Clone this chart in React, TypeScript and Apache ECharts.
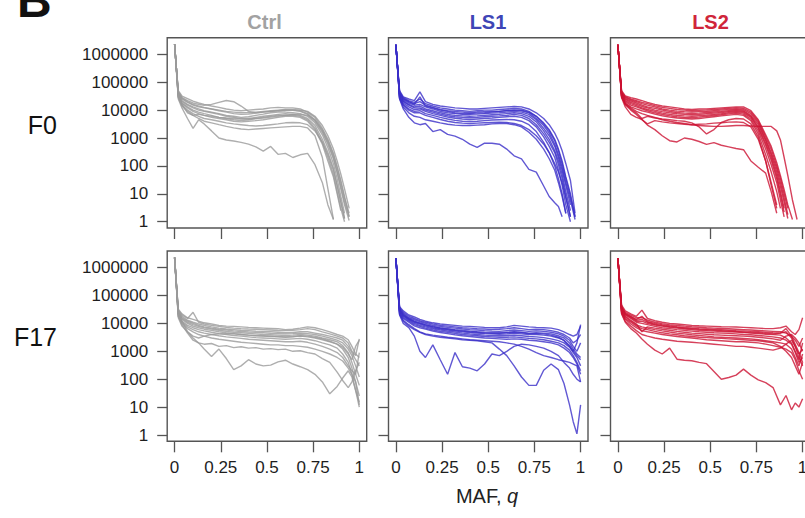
import React, { useEffect, useRef } from 'react';
import * as echarts from 'echarts';

const N = null;

// MAF grid (q) at which each curve was read
const Q_F0 = [0, 0.01, 0.02, 0.04, 0.07, 0.1, 0.13, 0.16, 0.2, 0.24, 0.28, 0.32, 0.36, 0.4, 0.44, 0.48, 0.52, 0.56, 0.6, 0.64, 0.68, 0.72, 0.76, 0.8, 0.83, 0.86, 0.88, 0.9, 0.92, 0.945, 0.97];
const Q_F17 = [0, 0.01, 0.02, 0.04, 0.07, 0.1, 0.13, 0.16, 0.2, 0.24, 0.28, 0.32, 0.36, 0.4, 0.44, 0.48, 0.52, 0.56, 0.6, 0.64, 0.68, 0.72, 0.76, 0.8, 0.84, 0.88, 0.91, 0.94, 0.96, 0.98, 1];

const Y_TICK_LABELS = ['1', '10', '100', '1000', '10000', '100000', '1000000'];
const X_TICK_LABELS = ['0', '0.25', '0.5', '0.75', '1'];
const COLUMN_TITLES = ['Ctrl', 'LS1', 'LS2'];
const ROW_TITLES = ['F0', 'F17'];

// ---------- Ctrl, F0 ----------
const CTRL_F0 = [
  [2.3e6, 3e5, 5e4, 3.2e4, 2.6e4, 2.1e4, 1.8e4, 1.6e4, 1.4e4, 1.25e4, 1.1e4, 1e4, 9500, 1e4, 1.05e4, 1.1e4, 1.2e4, 1.25e4, 1.2e4, 1.2e4, 1.1e4, 8500, 5500, 2200, 900, 280, 90, 30, 8, 1.5, N],
  [2.3e6, 3e5, 4.5e4, 2.8e4, 2.2e4, 1.8e4, 1.6e4, 1.5e4, 1.6e4, 1.9e4, 2.2e4, 2e4, 1.4e4, 9000, 8000, 8500, 9000, 9500, 1e4, 9800, 9000, 7000, 4000, 1600, 600, 180, 60, 18, 5, 1.5, N],
  [2.3e6, 3e5, 4e4, 2.5e4, 1.9e4, 1.5e4, 1.3e4, 1.2e4, 1.1e4, 9500, 8500, 7500, 7000, 7200, 7800, 8500, 9000, 9500, 1e4, 1e4, 9500, 7500, 4500, 1800, 700, 200, 60, 15, 4, 1.1, N],
  [2.3e6, 3e5, 4e4, 2.2e4, 1.6e4, 1.3e4, 1.1e4, 9500, 8500, 7500, 6500, 6000, 5500, 5800, 6500, 7200, 8000, 8500, 8500, 8000, 7500, 6000, 3500, 1300, 450, 120, 35, 8, 2, N, N],
  [2.3e6, 3e5, 3.5e4, 2e4, 1.5e4, 1.2e4, 1e4, 9000, 8000, 7000, 6000, 5500, 5000, 5000, 5500, 6000, 6500, 7000, 7500, 7000, 6500, 5000, 2800, 900, 300, 80, 20, 5, 1.3, N, N],
  [2.3e6, 2.8e5, 3.5e4, 1.8e4, 1.3e4, 1e4, 8500, 7500, 6500, 5500, 5000, 4500, 4200, 4500, 5000, 5500, 6000, 6500, 6500, 6500, 6000, 4500, 2300, 700, 200, 50, 12, 3, 1, N, N],
  [2.3e6, 2.8e5, 3e4, 1.7e4, 1.2e4, 9000, 7500, 6500, 5500, 5000, 4500, 4000, 3800, 4000, 4200, 4500, 5000, 5500, 6000, 6000, 5500, 4000, 2000, 600, 150, 40, 10, 2.5, N, N, N],
  [2.3e6, 2.8e5, 3e4, 1.5e4, 1e4, 7500, 6000, 5000, 4500, 4000, 3500, 3200, 3000, 2800, 2700, 2800, 3000, 3200, 3500, 3600, 3500, 3000, 1800, 700, 250, 70, 20, 5, 1.3, N, N],
  [2.3e6, 2.8e5, 2.8e4, 1.4e4, 9000, 6500, 5000, 4000, 3500, 3000, 2600, 2300, 2100, 2000, 2100, 2200, 2300, 2400, 2500, 2600, 2600, 2300, 1200, 200, 15, 1.2, N, N, N, N, N],
  [2.3e6, 2.5e5, 2.5e4, 1.2e4, 5000, 2200, 4500, 3200, 1800, 1000, 850, 780, 700, 600, 480, 340, 500, 260, 280, 200, 250, 280, 110, 25, 4, 1.2, N, N, N, N, N],
  [2.3e6, 3e5, 3.2e4, 1.6e4, 8000, 6500, 7000, 6500, 6000, 5500, 5200, 5000, 4800, 4800, 5000, 5200, 5600, 6000, 6500, 7000, 7000, 6500, 4500, 2000, 800, 250, 90, 25, 7, 2, N],
  [2.3e6, 3e5, 4.5e4, 2.7e4, 2e4, 1.6e4, 1.4e4, 1.25e4, 1.1e4, 1e4, 9000, 8500, 8000, 8000, 8500, 9000, 9500, 1e4, 1.05e4, 1.05e4, 1e4, 9000, 6000, 2800, 1200, 400, 150, 50, 15, 3, N],
];

// ---------- LS1, F0 ----------
const LS1_F0 = [
  [2.2e6, 3e5, 5e4, 3e4, 2.5e4, 2.2e4, 4.5e4, 2e4, 1.6e4, 1.4e4, 1.3e4, 1.2e4, 1.15e4, 1.1e4, 1.1e4, 1.15e4, 1.2e4, 1.25e4, 1.3e4, 1.35e4, 1.3e4, 1.1e4, 8000, 5000, 3000, 1500, 800, 350, 120, 30, 2],
  [2.2e6, 3e5, 4.5e4, 2.8e4, 2.2e4, 1.9e4, 2.5e4, 1.7e4, 1.4e4, 1.2e4, 1.1e4, 1e4, 9500, 9000, 9500, 1e4, 1e4, 1.05e4, 1.1e4, 1.15e4, 1.1e4, 9000, 6000, 3500, 2000, 900, 400, 150, 40, 10, 1.5],
  [2.2e6, 2.8e5, 4e4, 2.5e4, 2e4, 1.7e4, 2e4, 1.5e4, 1.25e4, 1.05e4, 9500, 9000, 8500, 8000, 8500, 8800, 9000, 9000, 9500, 1e4, 9500, 8000, 5000, 2800, 1500, 600, 250, 90, 25, 6, 1.2],
  [2.2e6, 2.8e5, 3.8e4, 2.3e4, 1.8e4, 1.5e4, 1.6e4, 1.3e4, 1.1e4, 9000, 8000, 7500, 7000, 7000, 7200, 7500, 7800, 8000, 8500, 9000, 8500, 7000, 4500, 2200, 1200, 500, 200, 70, 20, 4, N],
  [2.2e6, 2.8e5, 3.5e4, 2.1e4, 1.6e4, 1.3e4, 1.4e4, 1.1e4, 9500, 8000, 7000, 6500, 6200, 6000, 6200, 6500, 6800, 7000, 7500, 8000, 7500, 6000, 3800, 1800, 900, 350, 150, 50, 12, 2.5, N],
  [2.2e6, 2.7e5, 3.2e4, 2e4, 1.5e4, 1.2e4, 1.2e4, 1e4, 8500, 7200, 6300, 5800, 5500, 5300, 5500, 5800, 6000, 6200, 6500, 7000, 6500, 5000, 3000, 1400, 700, 300, 110, 35, 8, 1.5, N],
  [2.2e6, 2.7e5, 3e4, 1.8e4, 1.3e4, 1.05e4, 1.1e4, 9000, 7500, 6500, 5600, 5100, 4800, 4600, 4800, 5000, 5200, 5500, 5800, 6000, 5500, 4200, 2500, 1100, 500, 200, 70, 20, 4, 1, N],
  [2.2e6, 2.6e5, 2.8e4, 1.6e4, 1.1e4, 9000, 9500, 7500, 6500, 5500, 4800, 4300, 4000, 3900, 4000, 4200, 4400, 4500, 4600, 4500, 4000, 3000, 1700, 700, 300, 100, 35, 10, 2, N, N],
  [2.2e6, 2.6e5, 2.7e4, 1.5e4, 1e4, 8000, 8000, 6500, 5500, 4600, 4000, 3600, 3400, 3300, 3400, 3500, 3600, 3700, 3600, 3300, 2800, 2000, 1200, 600, 300, 120, 60, 25, 7, 1.5, N],
  [2.2e6, 2.6e5, 2.6e4, 1.3e4, 8000, 6000, 5500, 4500, 4000, 3500, 3100, 2900, 2800, 2800, 2900, 3000, 3200, 3300, 3300, 3000, 2500, 1600, 900, 400, 180, 70, 25, 8, 2, N, N],
  [2.2e6, 2.5e5, 2.5e4, 1.1e4, 5500, 3500, 3000, 3300, 1700, 2000, 1350, 1170, 900, 600, 460, 650, 650, 600, 400, 230, 180, 75, 60, 19, 8, 4.8, 3.5, 1.5, N, N, N],
  [2.2e6, 3e5, 4.2e4, 2.6e4, 2e4, 1.6e4, 3e4, 1.4e4, 1.2e4, 1e4, 9000, 8000, 7500, 7500, 7800, 8000, 8500, 9000, 9800, 1e4, 1e4, 8500, 6000, 3200, 1800, 800, 350, 120, 35, 8, 1.5],
];

// ---------- LS2, F0 ----------
const LS2_F0 = [
  [2.2e6, 3e5, 5e4, 3.2e4, 2.8e4, 2.5e4, 2.2e4, 1.9e4, 1.6e4, 1.4e4, 1.3e4, 1.2e4, 1.1e4, 1.05e4, 1.1e4, 1.1e4, 1.15e4, 1.2e4, 1.25e4, 1.3e4, 1.3e4, 9500, 4500, 1300, 500, 130, 45, 14, 4, 1.2, N],
  [2.2e6, 3e5, 4.5e4, 3e4, 2.5e4, 2.2e4, 1.9e4, 1.7e4, 1.45e4, 1.25e4, 1.15e4, 1.05e4, 1e4, 9500, 9800, 1e4, 1.05e4, 1.1e4, 1.15e4, 1.2e4, 1.15e4, 8500, 4000, 1100, 400, 100, 35, 10, 3, N, N],
  [2.2e6, 3e5, 4.2e4, 2.8e4, 2.3e4, 2e4, 1.7e4, 1.5e4, 1.3e4, 1.1e4, 1e4, 9200, 8800, 8500, 8800, 9000, 9500, 1e4, 1.05e4, 1.1e4, 1.05e4, 7500, 3500, 900, 300, 80, 25, 7, 1.8, N, N],
  [2.2e6, 2.8e5, 4e4, 2.6e4, 2.1e4, 1.8e4, 1.5e4, 1.3e4, 1.15e4, 1e4, 9000, 8200, 7800, 7600, 7800, 8200, 8600, 9000, 9500, 1e4, 9500, 6500, 3000, 800, 250, 60, 18, 5, 1.3, N, N],
  [2.2e6, 2.8e5, 3.8e4, 2.4e4, 1.9e4, 1.6e4, 1.35e4, 1.2e4, 1e4, 8800, 8000, 7400, 7000, 6800, 7000, 7400, 7800, 8200, 8800, 9200, 8800, 6000, 2500, 650, 200, 45, 12, 3, N, N, N],
  [2.2e6, 2.8e5, 3.6e4, 2.2e4, 1.7e4, 1.45e4, 1.2e4, 1.05e4, 9000, 7800, 7000, 6500, 6200, 6000, 6300, 6600, 7000, 7400, 8000, 8500, 8000, 5500, 2200, 550, 160, 35, 9, 2.2, N, N, N],
  [2.2e6, 2.7e5, 3.4e4, 2e4, 1.5e4, 1.3e4, 1.1e4, 9500, 8000, 7000, 6300, 5800, 5500, 5300, 5600, 6000, 6400, 6800, 7300, 7800, 7200, 4800, 1800, 400, 110, 25, 6, 1.5, N, N, N],
  [2.2e6, 2.7e5, 3.2e4, 1.8e4, 1.3e4, 1.1e4, 9500, 8500, 7200, 6300, 5600, 5200, 5000, 4800, 5000, 5400, 5800, 6200, 6600, 7000, 6500, 4200, 1400, 250, 60, 12, 3, N, N, N, N],
  [2.2e6, 2.6e5, 3e4, 1.6e4, 1.1e4, 8000, 5000, 6000, 5200, 4800, 4500, 4200, 4000, 3500, 2500, 1400, 2000, 3600, 4500, 5000, 4800, 3200, 1100, 150, 20, 3, N, N, N, N, N],
  [2.2e6, 2.7e5, 3e4, 1.7e4, 1.2e4, 9000, 7500, 6500, 5500, 4500, 4000, 3600, 3300, 3000, 2800, 2700, 2600, 2600, 2700, 2800, 2800, 2700, 2600, 2600, 2600, 1800, 850, 200, 45, 6, 1.2],
  [2.2e6, 2.6e5, 2.8e4, 1.3e4, 7000, 5500, 4700, 2900, 2000, 1200, 800, 720, 1000, 900, 750, 590, 680, 550, 480, 420, 380, 150, 90, 55, 12, 2, N, N, N, N, N],
  [2.2e6, 2.7e5, 3.2e4, 1.6e4, 1e4, 7000, 4500, 3200, 4200, 3800, 3500, 3300, 3100, 3000, 3100, 3200, 3400, 3500, 3700, 3800, 3600, 2500, 900, 150, 25, 4, N, N, N, N, N],
];

// ---------- Ctrl, F17 ----------
const CTRL_F17 = [
  [2.3e6, 2.5e5, 3.2e4, 2.2e4, 1.6e4, 1.4e4, 1.2e4, 1.05e4, 9500, 8500, 8000, 7800, 7500, 7200, 7000, 6800, 6600, 6400, 6000, 6200, 6800, 7500, 7000, 6000, 5000, 4000, 3500, 2600, 1500, 800, 600],
  [2.3e6, 2.5e5, 3e4, 2e4, 1.5e4, 2.5e4, 1.1e4, 9500, 8500, 7800, 7200, 6800, 6500, 6300, 6200, 6000, 5800, 5600, 5500, 5600, 6000, 6500, 6000, 5000, 4200, 3500, 3000, 2000, 1000, 700, 2800],
  [2.3e6, 2.4e5, 2.8e4, 1.8e4, 1.3e4, 1.1e4, 9500, 8500, 7500, 6800, 6300, 6000, 5700, 5500, 5300, 5200, 5000, 4800, 4600, 4700, 5000, 5000, 4500, 4000, 3500, 3000, 2500, 1500, 900, 500, 300],
  [2.3e6, 2.4e5, 2.6e4, 1.6e4, 1.2e4, 1e4, 8500, 7500, 6800, 6200, 5800, 5400, 5100, 4900, 4800, 4600, 4400, 4300, 4200, 4300, 4500, 4300, 4000, 3500, 3000, 2500, 2000, 1200, 700, 300, 120],
  [2.3e6, 2.3e5, 2.5e4, 1.5e4, 1.1e4, 9000, 7800, 7000, 6300, 5700, 5200, 4800, 4600, 4400, 4200, 4000, 3900, 3800, 3700, 3800, 4000, 3800, 3500, 3000, 2600, 2200, 1600, 900, 400, 150, 60],
  [2.3e6, 2.3e5, 2.4e4, 1.4e4, 1e4, 8000, 7000, 6200, 5600, 5000, 4600, 4300, 4000, 3800, 3600, 3500, 3400, 3300, 3200, 3300, 3500, 3300, 3000, 2600, 2200, 1800, 1200, 600, 250, 80, 12],
  [2.3e6, 2.2e5, 2.2e4, 1.2e4, 8500, 7000, 6000, 5400, 4800, 4300, 4000, 3700, 3500, 3300, 3100, 3000, 2900, 2800, 2700, 2800, 2900, 2700, 2400, 2000, 1700, 1300, 800, 400, 150, 40, 10],
  [2.3e6, 2.2e5, 2e4, 1.1e4, 7500, 6000, 5000, 4500, 4000, 3600, 3300, 3100, 2900, 2700, 2600, 2500, 2400, 2300, 2200, 2200, 2300, 2100, 1800, 1500, 1200, 900, 600, 300, 200, 150, 900],
  [2.3e6, 2.1e5, 1.8e4, 1e4, 6500, 5000, 4000, 3500, 3000, 2700, 2500, 2300, 2100, 2000, 1900, 1800, 1700, 1700, 1600, 1600, 1500, 1400, 1200, 1000, 800, 600, 450, 250, 150, 80, 25],
  [2.3e6, 2.1e5, 1.8e4, 9000, 4500, 2500, 2000, 1800, 1900, 1500, 1600, 1350, 1450, 1300, 1350, 1200, 1250, 1150, 1200, 1000, 1050, 900, 800, 550, 400, 180, 90, 50, 80, 200, 400],
  [2.3e6, 2e5, 1.6e4, 8000, 5000, 3000, 2000, 1200, 650, 1200, 550, 220, 300, 500, 350, 300, 320, 420, 480, 350, 280, 220, 150, 80, 30, 55, 110, 200, 120, 40, 15],
  [2.3e6, 2.2e5, 2.2e4, 1.2e4, 5000, 3500, 3000, 3500, 4000, 4200, 4300, 4200, 4000, 3800, 3700, 3600, 3500, 3400, 3300, 3400, 3600, 3500, 3200, 2800, 2300, 1800, 1400, 800, 500, 1500, 2500],
];

// ---------- LS1, F17 ----------
const LS1_F17 = [
  [2.2e6, 2.8e5, 4e4, 2.8e4, 2e4, 1.7e4, 1.4e4, 1.2e4, 1.05e4, 9500, 9000, 8500, 8000, 7800, 7500, 7200, 7000, 7000, 7500, 8500, 8000, 7500, 7200, 7000, 6800, 6000, 5000, 4000, 3500, 4000, 8000],
  [2.2e6, 2.7e5, 3.6e4, 2.5e4, 1.8e4, 1.5e4, 1.25e4, 1.1e4, 9500, 8500, 8000, 7500, 7000, 6800, 6500, 6300, 6000, 6200, 6500, 7000, 6500, 6000, 6200, 6000, 5500, 4800, 4000, 3000, 2000, 2500, 4000],
  [2.2e6, 2.7e5, 3.4e4, 2.3e4, 1.6e4, 1.35e4, 1.15e4, 1e4, 8500, 7800, 7200, 6800, 6300, 6000, 5800, 5500, 5300, 5200, 5500, 5800, 5500, 5200, 5400, 5200, 4800, 4200, 3500, 2500, 1500, 1000, 2000],
  [2.2e6, 2.6e5, 3.2e4, 2.1e4, 1.5e4, 1.2e4, 1.05e4, 9000, 7800, 7000, 6500, 6000, 5600, 5300, 5000, 4800, 4700, 4600, 4800, 5000, 4800, 4500, 4600, 4500, 4200, 3600, 3000, 2000, 1200, 800, 600],
  [2.2e6, 2.6e5, 3e4, 1.9e4, 1.4e4, 1.1e4, 9500, 8200, 7000, 6300, 5800, 5400, 5000, 4700, 4500, 4300, 4200, 4100, 4200, 4400, 4200, 4000, 4000, 3800, 3500, 3000, 2500, 1600, 1000, 700, 500],
  [2.2e6, 2.5e5, 2.8e4, 1.8e4, 1.3e4, 1e4, 8500, 7500, 6400, 5800, 5300, 4900, 4500, 4200, 4000, 3800, 3700, 3600, 3700, 3800, 3600, 3400, 3300, 3100, 2800, 2400, 2000, 1400, 900, 600, 300],
  [2.2e6, 2.5e5, 2.6e4, 1.6e4, 1.2e4, 9000, 7800, 6800, 5800, 5200, 4800, 4400, 4000, 3800, 3600, 3400, 3300, 3200, 3200, 3300, 3100, 2900, 2800, 2600, 2300, 2000, 1600, 1100, 700, 400, 200],
  [2.2e6, 2.4e5, 2.4e4, 1.5e4, 1.1e4, 8200, 7000, 6200, 5300, 4700, 4300, 3900, 3600, 3400, 3200, 3000, 2900, 2800, 2700, 2800, 2700, 2500, 2400, 2200, 2000, 1700, 1300, 900, 600, 350, 150],
  [2.2e6, 2.3e5, 2.2e4, 1.3e4, 9000, 6500, 5000, 4200, 3800, 3500, 3200, 3000, 2800, 2600, 2500, 2400, 2300, 2200, 2000, 1800, 1500, 1200, 900, 700, 600, 500, 450, 400, 350, 300, 80],
  [2.2e6, 2.3e5, 2.1e4, 1.2e4, 8000, 6000, 4800, 4000, 3500, 3200, 3000, 2800, 2600, 2500, 2400, 2200, 2000, 1200, 700, 300, 120, 60, 60, 210, 350, 220, 70, 12, 3, 1.1, 12],
  [2.2e6, 2.2e5, 2e4, 1e4, 7000, 3500, 1000, 600, 1700, 500, 150, 900, 280, 250, 200, 350, 800, 700, 1000, 1500, 1800, 1700, 1500, 1300, 1000, 700, 400, 250, 150, 100, 80],
  [2.2e6, 2.6e5, 3e4, 2e4, 1.45e4, 1.15e4, 1e4, 8800, 7500, 6700, 6200, 5700, 5300, 5000, 4800, 4500, 4400, 4400, 4600, 4800, 4600, 4300, 4300, 4200, 3800, 3200, 2400, 1500, 1000, 2000, 9000],
];

// ---------- LS2, F17 ----------
const LS2_F17 = [
  [2.2e6, 2.8e5, 4.5e4, 2.8e4, 2.2e4, 1.8e4, 3e4, 1.5e4, 1.25e4, 1.1e4, 1e4, 9500, 9000, 8500, 8200, 8000, 7800, 7600, 7500, 7400, 7200, 7000, 6800, 6500, 6500, 7000, 8000, 5000, 4000, 6000, 1.6e4],
  [2.2e6, 2.7e5, 4e4, 2.5e4, 2e4, 1.6e4, 1.6e4, 1.3e4, 1.1e4, 9800, 9000, 8500, 8000, 7600, 7300, 7000, 6800, 6600, 6400, 6200, 6000, 5800, 5600, 5400, 5200, 5000, 4500, 3500, 2500, 1500, 3000],
  [2.2e6, 2.7e5, 3.8e4, 2.3e4, 1.8e4, 1.4e4, 1.8e4, 1.15e4, 1e4, 9000, 8200, 7600, 7100, 6800, 6500, 6300, 6100, 5900, 5700, 5500, 5400, 5200, 5000, 4800, 4600, 4500, 5000, 3000, 1500, 800, 1200],
  [2.2e6, 2.6e5, 3.5e4, 2.1e4, 1.6e4, 1.2e4, 1.2e4, 1e4, 8800, 8000, 7300, 6800, 6300, 6000, 5700, 5500, 5300, 5100, 5000, 4900, 4700, 4500, 4300, 4100, 4000, 3800, 3000, 2000, 1000, 500, 2000],
  [2.2e6, 2.6e5, 3.3e4, 2e4, 1.5e4, 1.1e4, 1e4, 9000, 7800, 7000, 6500, 6000, 5600, 5300, 5000, 4800, 4600, 4500, 4400, 4200, 4000, 3900, 3700, 3500, 3300, 3000, 2500, 1800, 900, 400, 600],
  [2.2e6, 2.5e5, 3e4, 1.8e4, 1.3e4, 9500, 5000, 7500, 6800, 6200, 5700, 5200, 4800, 4500, 4300, 4100, 3900, 3800, 3700, 3600, 3500, 3400, 3200, 3000, 2800, 2500, 3500, 4000, 3000, 2000, 1000],
  [2.2e6, 2.5e5, 2.8e4, 1.7e4, 1.2e4, 8800, 7500, 6800, 6000, 5400, 4900, 4500, 4200, 3900, 3700, 3500, 3300, 3200, 3100, 3000, 2900, 2800, 2600, 2400, 2200, 2000, 1800, 1200, 600, 300, 800],
  [2.2e6, 2.4e5, 2.6e4, 1.5e4, 1.1e4, 8000, 6500, 6000, 5200, 4600, 4200, 3900, 3600, 3400, 3200, 3100, 3000, 2900, 2800, 2700, 2600, 2500, 2400, 2200, 2000, 1500, 1000, 600, 300, 150, 400],
  [2.2e6, 2.4e5, 2.5e4, 1.4e4, 9500, 7000, 5500, 5000, 4500, 4000, 3700, 3400, 3200, 3000, 2800, 2600, 2500, 2400, 2300, 2200, 2200, 2100, 2000, 1800, 1600, 1400, 1200, 900, 500, 200, 100],
  [2.2e6, 2.3e5, 2.3e4, 1.2e4, 8000, 5500, 4000, 3500, 3000, 2700, 2500, 2300, 2200, 2100, 2000, 1900, 1800, 1700, 1600, 1500, 1500, 1400, 1300, 1200, 1100, 1300, 1800, 2500, 1500, 600, 300],
  [2.2e6, 2.3e5, 2.2e4, 1.1e4, 6500, 4500, 2750, 1800, 1100, 800, 1300, 520, 480, 460, 400, 360, 190, 100, 115, 140, 230, 140, 95, 75, 50, 12, 26, 8, 14, 10, 20],
  [2.2e6, 2.6e5, 3.4e4, 2.2e4, 1.7e4, 1.3e4, 1.4e4, 1.1e4, 9200, 8400, 7700, 7200, 6700, 6400, 6100, 5900, 5700, 5500, 5300, 5100, 4900, 4700, 4600, 4400, 4200, 4500, 6500, 3500, 1800, 900, 400],
];

const PANELS = [
  { row: 0, col: 0, q: Q_F0, lines: CTRL_F0 },
  { row: 0, col: 1, q: Q_F0, lines: LS1_F0 },
  { row: 0, col: 2, q: Q_F0, lines: LS2_F0 },
  { row: 1, col: 0, q: Q_F17, lines: CTRL_F17 },
  { row: 1, col: 1, q: Q_F17, lines: LS1_F17 },
  { row: 1, col: 2, q: Q_F17, lines: LS2_F17 },
];

// ---------- layout / style ----------
const FONT = "'Liberation Sans', Arial, Helvetica, sans-serif";
const LINE_COLORS = ['#9a9a9a', '#3a2ec8', '#cc1232'];
const TITLE_COLORS = ['#a2a2a2', '#3e45b6', '#d0253a'];
const TITLE_X = [264.5, 488, 710.5];
const COL_LEFT = [167.2, 388.5, 610.5];
const ROW_TOP = [37.7, 251];
const ROW_LABEL_Y = [124.5, 336.5];
const BOX_W = 199.5;
const BOX_H = 190.3;
const X_MIN = -0.04;
const X_MAX = 1.04;
const Y_MIN = 0.594;
const Y_MAX = 3.94e6;
const TICK_Y_OFFSET = 16.6; // 1e6 tick below box top
const TICK_Y_SPAN = 167.4; // 1 .. 1e6
const TICK_X_OFFSET = 7.39; // q = 0 right of box left
const TICK_X_SPAN = 184.7; // 0 .. 1
const AXIS_COLOR = '#555';

function buildOption() {
  const grid: any[] = [];
  const xAxis: any[] = [];
  const yAxis: any[] = [];
  const series: any[] = [];

  PANELS.forEach((p, i) => {
    const left = COL_LEFT[p.col];
    const top = ROW_TOP[p.row];
    grid.push({
      left, top, width: BOX_W, height: BOX_H,
      show: true, borderColor: AXIS_COLOR, borderWidth: 1.4, backgroundColor: 'transparent',
      containLabel: false, outerBoundsMode: 'none',
    });
    xAxis.push({ gridIndex: 3 * i, type: 'value', min: X_MIN, max: X_MAX, show: false });
    yAxis.push({ gridIndex: 3 * i, type: 'log', logBase: 10, min: Y_MIN, max: Y_MAX, show: false });

    grid.push({
      left, top: top + TICK_Y_OFFSET, width: BOX_W, height: TICK_Y_SPAN,
      show: false, containLabel: false, outerBoundsMode: 'none',
    });
    xAxis.push({ gridIndex: 3 * i + 1, type: 'value', show: false });
    yAxis.push({
      gridIndex: 3 * i + 1, type: 'category', data: Y_TICK_LABELS, boundaryGap: false, position: 'left',
      axisLine: { show: false },
      axisTick: { show: true, length: 10, interval: 0, lineStyle: { color: AXIS_COLOR, width: 1.3 } },
      axisLabel: {
        show: p.col === 0, interval: 0, margin: 19, fontSize: 17, color: '#1e1e1e', fontFamily: FONT,
      },
      splitLine: { show: false },
    });

    grid.push({
      left: left + TICK_X_OFFSET, top, width: TICK_X_SPAN, height: BOX_H,
      show: false, containLabel: false, outerBoundsMode: 'none',
    });
    xAxis.push({
      gridIndex: 3 * i + 2, type: 'category', data: X_TICK_LABELS, boundaryGap: false, position: 'bottom',
      axisLine: { show: false },
      axisTick: { show: true, length: 11, interval: 0, lineStyle: { color: AXIS_COLOR, width: 1.3 } },
      axisLabel: {
        show: p.row === 1, interval: 0, margin: 18, fontSize: 17, color: '#1e1e1e', fontFamily: FONT,
      },
      splitLine: { show: false },
    });
    yAxis.push({ gridIndex: 3 * i + 2, type: 'value', show: false });

    p.lines.forEach((vals) => {
      const data: any[] = [];
      p.q.forEach((q, k) => {
        if (vals[k] !== null && vals[k] !== undefined) data.push([q, vals[k]]);
      });
      series.push({
        type: 'line',
        xAxisIndex: 3 * i,
        yAxisIndex: 3 * i,
        data,
        symbol: 'none',
        showSymbol: false,
        silent: true,
        clip: true,
        lineStyle: { width: 1.4, color: LINE_COLORS[p.col], opacity: 0.8 },
        z: 2,
      });
    });
  });

  const graphic: any[] = [
    {
      type: 'text', x: 17, y: 0,
      style: { text: 'B', fontSize: 48, fontWeight: 'bold', fontFamily: FONT, fill: '#111', textAlign: 'left', align: 'left', textVerticalAlign: 'middle', verticalAlign: 'middle' },
    },
  ];
  COLUMN_TITLES.forEach((t, c) => {
    graphic.push({
      type: 'text', x: TITLE_X[c], y: 21.7,
      style: { text: t, fontSize: 20, fontWeight: 'bold', fontFamily: FONT, fill: TITLE_COLORS[c], textAlign: 'center', align: 'center', textVerticalAlign: 'middle', verticalAlign: 'middle' },
    });
  });
  ROW_TITLES.forEach((t, r) => {
    graphic.push({
      type: 'text', x: 57, y: ROW_LABEL_Y[r],
      style: { text: t, fontSize: 25, fontFamily: FONT, fill: '#111', textAlign: 'right', align: 'right', textVerticalAlign: 'middle', verticalAlign: 'middle' },
    });
  });
  graphic.push({
    type: 'text', x: 487, y: 496,
    style: {
      text: '{n|MAF, }{i|q}',
      fontSize: 20, fontFamily: FONT, fill: '#222',
      textAlign: 'center', align: 'center', textVerticalAlign: 'middle', verticalAlign: 'middle',
      rich: {
        n: { fontSize: 20, fontFamily: FONT, fill: '#222', color: '#222' },
        i: { fontSize: 20, fontFamily: FONT, fontStyle: 'italic', fill: '#222', color: '#222' },
      },
    },
  });

  return {
    animation: false,
    backgroundColor: '#ffffff',
    textStyle: { fontFamily: FONT },
    grid, xAxis, yAxis, series, graphic,
  };
}

export default function App() {
  const ref = useRef<HTMLDivElement>(null);
  useEffect(() => {
    if (!ref.current) return;
    const chart = echarts.init(ref.current, null, { renderer: 'svg' });
    chart.setOption(buildOption());
    return () => chart.dispose();
  }, []);
  return (
    <div
      ref={ref}
      style={{ position: 'absolute', left: 0, top: 0, width: 805, height: 518, background: '#fff' }}
    />
  );
}
